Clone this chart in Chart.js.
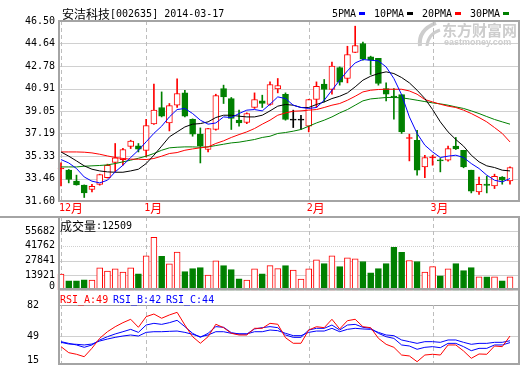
<!DOCTYPE html>
<html>
<head>
<meta charset="utf-8">
<script src="https://cdn.jsdelivr.net/npm/chart.js@4.4.1/dist/chart.umd.min.js"></script>
<style>
  html, body { margin: 0; padding: 0; background: #fff; overflow: hidden; }
  #wrap { position: relative; width: 520px; height: 365px; overflow: hidden; background: #fff; }
  canvas { position: absolute; left: 0; top: 0; }
</style>
</head>
<body>
<div id="wrap">
  <canvas id="priceChart" width="520" height="375"></canvas>
  <canvas id="volumeChart" width="520" height="375"></canvas>
  <canvas id="rsiChart" width="520" height="375"></canvas>
</div>
<script>
const stockName = '安洁科技';
const stockCode = '002635';
const chartDate = '2014-03-17';

const tradeDays = ['12-17', '12-18', '12-19', '12-20', '12-23', '12-24', '12-25', '12-26', '12-27', '12-30', '12-31',
  '01-02', '01-03', '01-06', '01-07', '01-08', '01-09', '01-10', '01-13', '01-14', '01-15', '01-16', '01-17', '01-20', '01-21', '01-22', '01-23', '01-24', '01-27', '01-28', '01-29', '01-30',
  '02-07', '02-10', '02-11', '02-12', '02-13', '02-14', '02-17', '02-18', '02-19', '02-20', '02-21', '02-24', '02-25', '02-26', '02-27', '02-28',
  '03-03', '03-04', '03-05', '03-06', '03-07', '03-10', '03-11', '03-12', '03-13', '03-14', '03-17'];
const monthStarts = ['12-17', '01-02', '02-07', '03-03'];
const monthLabels = ['12月', '1月', '2月', '3月'];

const open = [34.25, 34.15, 33.24, 32.91, 32.55, 32.97, 33.54, 34.79, 35.03, 36.11, 36.16,
  35.78, 37.98, 39.34, 38.06, 39.53, 40.55, 38.37, 37.13, 35.86, 37.52, 40.91, 40.08, 38.29, 38.10, 39.34, 39.89, 39.59, 40.88, 40.44, 38.29, 38.29,
  37.79, 40.00, 41.27, 40.83, 42.65, 41.74, 43.89, 44.64, 43.53, 43.40, 40.91, 40.25, 40.40, 36.77, 36.63, 34.42,
  35.17, 34.98, 34.98, 36.14, 35.80, 34.15, 32.35, 33.00, 32.85, 33.59, 33.26];
const high = [34.75, 34.21, 33.74, 32.93, 32.97, 33.82, 34.65, 36.36, 35.97, 36.63, 36.36,
  38.37, 41.27, 40.63, 39.67, 41.71, 40.77, 38.40, 37.65, 37.62, 40.44, 41.19, 40.17, 39.12, 38.90, 40.55, 40.36, 41.46, 41.74, 40.55, 39.12, 38.70,
  40.02, 41.46, 41.66, 43.09, 42.70, 44.41, 46.07, 44.75, 43.59, 43.40, 41.38, 40.91, 40.40, 37.13, 37.46, 35.39,
  35.39, 35.12, 36.14, 36.86, 35.80, 34.15, 33.59, 33.65, 33.82, 33.62, 34.42];
const low = [32.85, 33.10, 32.91, 31.89, 32.36, 32.91, 33.50, 34.01, 34.56, 35.94, 35.66,
  35.25, 37.93, 38.56, 37.40, 39.34, 38.56, 36.96, 34.75, 35.66, 37.46, 39.67, 37.52, 37.79, 38.00, 39.26, 39.34, 39.53, 40.55, 38.29, 37.68, 37.52,
  37.32, 39.34, 39.80, 40.44, 41.19, 41.38, 43.89, 43.25, 42.07, 41.19, 39.89, 38.37, 37.19, 34.92, 33.74, 33.54,
  34.56, 34.01, 34.90, 35.86, 34.35, 32.27, 32.14, 32.27, 32.63, 32.99, 32.99];
const close = [34.33, 33.38, 32.93, 32.27, 32.82, 33.79, 34.56, 35.17, 35.86, 36.55, 35.89,
  37.85, 39.12, 38.62, 39.50, 40.50, 38.62, 37.13, 36.14, 37.60, 40.33, 40.22, 38.43, 38.06, 38.84, 40.00, 39.67, 41.24, 41.16, 38.35, 38.29, 38.29,
  40.00, 41.10, 40.83, 42.76, 41.43, 43.73, 44.47, 43.34, 43.25, 41.33, 40.44, 40.20, 37.32, 36.80, 34.15, 35.20,
  35.20, 34.92, 35.94, 35.91, 34.42, 32.41, 32.99, 32.90, 33.65, 33.32, 34.37];

const ma5 = [35.03, 34.75, 34.29, 33.59, 33.24, 33.10, 33.32, 34.01, 34.56, 35.20, 35.80,
  36.50, 37.20, 37.79, 38.56, 39.17, 39.26, 38.84, 38.29, 37.96, 38.06, 38.56, 38.51, 38.84, 39.12, 39.17, 39.06, 39.61, 40.22, 40.08, 39.53, 39.34,
  39.26, 39.34, 39.94, 40.77, 41.60, 42.37, 43.03, 43.31, 43.25, 43.20, 42.70, 41.74, 40.40, 38.56, 37.19, 36.22,
  35.66, 35.20, 35.31, 35.39, 35.20, 34.70, 34.29, 33.74, 33.32, 33.18, 33.46];
const ma10 = [35.66, 35.31, 34.92, 34.51, 34.23, 34.09, 34.01, 33.98, 33.98, 34.09, 34.23,
  34.70, 35.39, 36.14, 36.91, 37.32, 37.73, 37.96, 38.01, 38.15, 38.51, 38.70, 38.70, 38.62, 38.56, 38.56, 38.70, 39.06, 39.45, 39.59, 39.53, 39.34,
  39.34, 39.59, 39.80, 40.08, 40.27, 40.55, 41.05, 41.60, 41.93, 42.15, 42.29, 42.15, 41.82, 41.38, 40.77, 40.08,
  39.17, 38.15, 37.32, 36.69, 36.14, 35.39, 34.84, 34.51, 34.37, 34.15, 34.09];
const ma20 = [35.66, 35.66, 35.66, 35.64, 35.58, 35.47, 35.33, 35.20, 35.12, 35.06, 35.06,
  35.03, 35.12, 35.31, 35.53, 35.61, 35.80, 35.91, 36.00, 36.08, 36.36, 36.58, 36.86, 37.10, 37.32, 37.60, 37.96, 38.29, 38.70, 38.89, 39.03, 39.06,
  39.12, 39.17, 39.34, 39.53, 39.67, 39.94, 40.27, 40.63, 40.77, 40.83, 40.85, 40.85, 40.85, 40.71, 40.44, 40.00,
  39.80, 39.61, 39.45, 39.34, 39.12, 38.84, 38.51, 38.15, 37.68, 37.19, 36.49];
const ma30 = [34.42, 34.42, 34.42, 34.48, 34.51, 34.54, 34.59, 34.70, 34.84, 34.98, 35.14,
  35.31, 35.53, 35.80, 36.00, 36.05, 36.08, 36.08, 36.05, 36.08, 36.19, 36.30, 36.41, 36.47, 36.58, 36.69, 36.86, 36.96, 37.19, 37.27, 37.38, 37.52,
  37.79, 38.06, 38.29, 38.56, 38.89, 39.17, 39.53, 39.89, 40.05, 40.11, 40.17, 40.17, 40.14, 40.05, 39.94, 39.83,
  39.72, 39.64, 39.53, 39.39, 39.26, 39.06, 38.84, 38.59, 38.35, 38.15, 37.96];

const volume = [15070, 8640, 8640, 9600, 9300, 20830, 17950, 19870, 16990, 20830, 15360,
  32350, 49630, 31680, 24670, 35810, 17280, 20160, 21120, 14110, 27550, 23040, 19200, 10560, 9300, 19870, 15360, 23040, 20160, 23040, 18910, 10270,
  19870, 28510, 24960, 32350, 22080, 30430, 29470, 26880, 16320, 20160, 24960, 40320, 35520, 27840, 26880, 16990,
  22080, 13440, 19870, 24960, 18240, 21120, 12480, 12480, 12480, 8640, 12509];

const rsiA = [37.7, 31.3, 29.6, 27.0, 36.0, 46.6, 53.6, 58.9, 63.2, 66.8, 58.3,
  69.6, 72.4, 67.9, 71.4, 74.2, 60.7, 48.3, 41.3, 48.3, 61.5, 57.9, 51.9, 50.1, 50.1, 57.2, 57.2, 62.5, 61.5, 47.2, 41.3, 41.3,
  55.4, 58.9, 57.9, 66.8, 56.5, 65.3, 66.8, 58.9, 57.9, 46.6, 40.2, 37.0, 28.8, 27.8, 21.7, 28.8,
  29.6, 28.8, 39.5, 39.5, 33.1, 25.3, 29.9, 29.6, 38.4, 37.7, 49];
const rsiB = [43.0, 41.2, 39.5, 37.0, 39.5, 44.8, 48.3, 51.2, 53.6, 56.1, 52.9,
  60.7, 62.5, 61.4, 63.2, 65.7, 59.0, 51.9, 47.6, 51.9, 59.0, 58.3, 52.6, 51.2, 51.2, 56.5, 57.9, 59.0, 57.9, 50.1, 47.6, 47.6,
  55.4, 57.2, 57.2, 60.7, 55.4, 60.7, 61.4, 58.3, 57.2, 51.9, 48.3, 46.5, 39.5, 38.4, 34.9, 37.0,
  37.7, 36.6, 41.2, 41.2, 37.7, 33.4, 35.9, 35.9, 39.5, 39.5, 42];
const rsiC = [42.3, 40.5, 40.2, 39.5, 40.5, 43.7, 45.8, 47.6, 49.0, 50.1, 49.0,
  52.9, 53.6, 53.6, 54.0, 54.3, 52.9, 50.8, 48.3, 50.1, 53.6, 53.6, 51.9, 51.2, 51.2, 53.6, 53.6, 55.4, 54.7, 51.9, 49.4, 49.4,
  52.9, 54.3, 54.3, 57.2, 53.6, 56.1, 57.2, 56.5, 56.1, 52.9, 50.1, 49.4, 44.8, 43.0, 41.2, 43.0,
  43.0, 42.3, 44.8, 44.8, 42.3, 40.2, 41.2, 41.2, 42.3, 42.3, 44];

const priceTicks = [46.50, 44.64, 42.78, 40.91, 39.05, 37.19, 35.33, 33.46, 31.60];
const volumeTicks = [55682, 41762, 27841, 13921, 0];
const rsiTicks = [82, 49, 15];

const RED = '#ff0000';
const GREEN = '#008000';
const BLUE = '#0000ff';
const BLACK = '#000000';
const GRID = '#d0d0d0';
const FRAME = '#a4a4a4';
const DASH = '#bdbdbd';
const LEFT = 59;
const RIGHT = 519;
const CJK_FONT = '12px "Noto Sans CJK SC"';
const MONO_FONT = '10px "DejaVu Sans Mono"';

const last = tradeDays.length - 1;
const candleColor = close.map((c, i) => (c > open[i] ? RED : c < open[i] ? GREEN : BLACK));
const bodyFill = close.map((c, i) => (c > open[i] && c - open[i] > 0.1 ? '#ffffff' : candleColor[i]));
const volUp = close.map((c, i) => c >= open[i]);

// mixed text: CJK glyphs in a CJK font, everything else in a mono font
function drawText(ctx, text, x, y, color, align) {
  const runs = [];
  for (const ch of text) {
    const wide = ch.charCodeAt(0) > 255;
    const prev = runs[runs.length - 1];
    if (prev && prev.wide === wide) prev.s += ch;
    else runs.push({ wide, s: ch });
  }
  ctx.save();
  ctx.fillStyle = color;
  ctx.textBaseline = 'middle';
  ctx.textAlign = 'left';
  let total = 0;
  runs.forEach((r) => {
    ctx.font = r.wide ? CJK_FONT : MONO_FONT;
    r.w = ctx.measureText(r.s).width;
    total += r.w;
  });
  let cx = align === 'right' ? x - total : x;
  runs.forEach((r) => {
    ctx.font = r.wide ? CJK_FONT : MONO_FONT;
    ctx.fillText(r.s, cx, y);
    cx += r.w;
  });
  ctx.restore();
  return total;
}

function line(ctx, x1, y1, x2, y2, color, width, dash) {
  ctx.save();
  ctx.strokeStyle = color;
  ctx.lineWidth = width || 1;
  ctx.setLineDash(dash || []);
  ctx.beginPath();
  ctx.moveTo(x1, y1);
  ctx.lineTo(x2, y2);
  ctx.stroke();
  ctx.restore();
}

const snap = (v) => Math.round(v) + 0.5;

function monthLines(chart, top, bottom) {
  const x = chart.scales.x;
  monthStarts.forEach((d) => {
    const px = snap(x.getPixelForValue(tradeDays.indexOf(d)));
    line(chart.ctx, px, top, px, bottom, DASH, 1, [4, 3]);
  });
}

function drawWatermark(ctx) {
  ctx.save();
  ctx.fillStyle = '#cdcdcd';
  ctx.strokeStyle = '#cdcdcd';
  ctx.lineWidth = 4;
  ctx.beginPath();
  ctx.moveTo(420, 46);
  ctx.quadraticCurveTo(418, 30, 436, 23);
  ctx.stroke();
  ctx.lineWidth = 3;
  ctx.beginPath();
  ctx.moveTo(427, 46);
  ctx.quadraticCurveTo(428, 34, 440, 30);
  ctx.stroke();
  ctx.textBaseline = 'middle';
  ctx.font = 'bold 15px "Noto Sans CJK SC"';
  ctx.fillText('东方财富网', 442, 30);
  ctx.font = 'bold 9px "Liberation Sans"';
  ctx.fillText('eastmoney.com', 444, 43);
  ctx.restore();
}

const pricePanel = {
  id: 'pricePanel',
  beforeDatasetsDraw(chart) {
    const { ctx, scales: { y } } = chart;
    const top = y.getPixelForValue(priceTicks[0]);
    const bottom = y.getPixelForValue(priceTicks[priceTicks.length - 1]);
    drawWatermark(ctx);
    priceTicks.forEach((v) => {
      const py = snap(y.getPixelForValue(v));
      line(ctx, LEFT, py, RIGHT, py, GRID);
    });
    monthLines(chart, top, bottom);
  },
  afterDraw(chart) {
    const { ctx, scales: { x, y } } = chart;
    const top = Math.round(y.getPixelForValue(priceTicks[0]));
    const bottom = Math.round(y.getPixelForValue(priceTicks[priceTicks.length - 1]));
    ctx.save();
    ctx.strokeStyle = FRAME;
    ctx.lineWidth = 2;
    ctx.strokeRect(LEFT, top, RIGHT - LEFT, bottom - top);
    ctx.restore();
    priceTicks.forEach((v) => drawText(ctx, v.toFixed(2), 55, y.getPixelForValue(v), BLACK, 'right'));
    monthStarts.forEach((d, k) => {
      drawText(ctx, monthLabels[k], x.getPixelForValue(tradeDays.indexOf(d)) - 2, 208, RED);
    });
    drawText(ctx, stockName + '[' + stockCode + '] ' + chartDate, 62, 14, BLACK);
    let lx = 332;
    chart.data.datasets.filter((ds) => ds.type === 'line').forEach((ds) => {
      const w = drawText(ctx, ds.label, lx, 14, BLACK);
      ctx.fillStyle = ds.borderColor;
      ctx.fillRect(Math.round(lx + w + 3), 12, 6, 3);
      lx = Math.round(lx + w + 3) + 15;
    });
  }
};

const volumePanel = {
  id: 'volumePanel',
  beforeDatasetsDraw(chart) {
    const { ctx, scales: { y } } = chart;
    volumeTicks.forEach((v, k) => {
      const py = snap(y.getPixelForValue(v));
      line(ctx, LEFT, py, RIGHT, py, GRID, 1, k === 1 ? [1, 1] : []);
    });
    monthLines(chart, 217, 289);
  },
  afterDraw(chart) {
    const { ctx, scales: { y } } = chart;
    const bottom = 289;
    line(ctx, 0, 217, RIGHT + 1, 217, FRAME, 2);
    line(ctx, LEFT, 217, LEFT, bottom, FRAME, 2);
    line(ctx, RIGHT, 217, RIGHT, bottom, FRAME, 2);
    line(ctx, LEFT, bottom, RIGHT + 1, bottom, FRAME, 2);
    volumeTicks.forEach((v) => {
      drawText(ctx, String(v), 55, Math.min(y.getPixelForValue(v), bottom - 3), BLACK, 'right');
    });
    drawText(ctx, '成交量:' + volume[last], 60, 226, BLACK);
  }
};

const rsiPanel = {
  id: 'rsiPanel',
  beforeDatasetsDraw(chart) {
    const { ctx, scales: { y } } = chart;
    rsiTicks.forEach((v, k) => {
      const py = snap(y.getPixelForValue(v));
      line(ctx, LEFT, py, RIGHT, py, k === 0 ? FRAME : GRID, 1);
    });
    monthLines(chart, y.getPixelForValue(rsiTicks[0]), 364);
  },
  afterDraw(chart) {
    const { ctx, scales: { y } } = chart;
    line(ctx, LEFT, 289, LEFT, 365, FRAME, 2);
    line(ctx, RIGHT, 289, RIGHT, 365, FRAME, 2);
    line(ctx, LEFT, 364, RIGHT + 1, 364, FRAME, 2);
    rsiTicks.forEach((v) => {
      drawText(ctx, String(v), 39, Math.min(y.getPixelForValue(v), 360), BLACK, 'right');
    });
    let tx = 60;
    chart.data.datasets.forEach((ds) => {
      const w = drawText(ctx, ds.label + ':' + Math.round(ds.data[last]), tx, 300, ds.borderColor);
      tx = Math.round(tx + w + 5);
    });
  }
};

const sharedOptions = (padding, yMin, yMax) => ({
  responsive: false,
  animation: false,
  devicePixelRatio: 1,
  layout: { padding },
  plugins: { legend: { display: false }, tooltip: { enabled: false } },
  scales: {
    x: { display: false, offset: false },
    y: { display: false, min: yMin, max: yMax }
  }
});

const maLine = (label, data, color, order) => ({
  type: 'line', label, data, borderColor: color, borderWidth: 1,
  pointRadius: 0, tension: 0, clip: false, order
});

new Chart(document.getElementById('priceChart'), {
  type: 'bar',
  data: {
    labels: tradeDays,
    datasets: [
      maLine('5PMA', ma5, BLUE, 0),
      maLine('10PMA', ma10, BLACK, 1),
      maLine('20PMA', ma20, RED, 2),
      maLine('30PMA', ma30, GREEN, 3),
      {
        label: 'body',
        data: open.map((o, i) => [o, close[i]]),
        backgroundColor: bodyFill,
        borderColor: candleColor,
        borderWidth: 1,
        borderSkipped: false,
        barThickness: 6,
        minBarLength: 1,
        grouped: false,
        clip: false,
        order: 4
      },
      {
        label: 'wick',
        data: low.map((l, i) => [l, high[i]]),
        backgroundColor: candleColor,
        borderWidth: 0,
        barThickness: 1,
        grouped: false,
        clip: false,
        order: 5
      }
    ]
  },
  options: sharedOptions({ left: 61, right: 10, top: 21, bottom: 174 }, 31.60, 46.50),
  plugins: [pricePanel]
});

new Chart(document.getElementById('volumeChart'), {
  type: 'bar',
  data: {
    labels: tradeDays,
    datasets: [{
      label: '成交量',
      data: volume,
      backgroundColor: volUp.map((up) => (up ? '#ffffff' : GREEN)),
      borderColor: volUp.map((up) => (up ? RED : GREEN)),
      borderWidth: 1,
      borderSkipped: false,
      barThickness: 6,
      clip: false
    }]
  },
  options: sharedOptions({ left: 61, right: 10, top: 231, bottom: 85 }, 0, 55682),
  plugins: [volumePanel]
});

new Chart(document.getElementById('rsiChart'), {
  type: 'line',
  data: {
    labels: tradeDays,
    datasets: [
      maLine('RSI_A', rsiA, RED, 0),
      maLine('RSI_B', rsiB, BLUE, 1),
      maLine('RSI_C', rsiC, BLUE, 2)
    ]
  },
  options: sharedOptions({ left: 61, right: 10, top: 305, bottom: 7 }, 15, 82),
  plugins: [rsiPanel]
});
</script>
</body>
</html>
